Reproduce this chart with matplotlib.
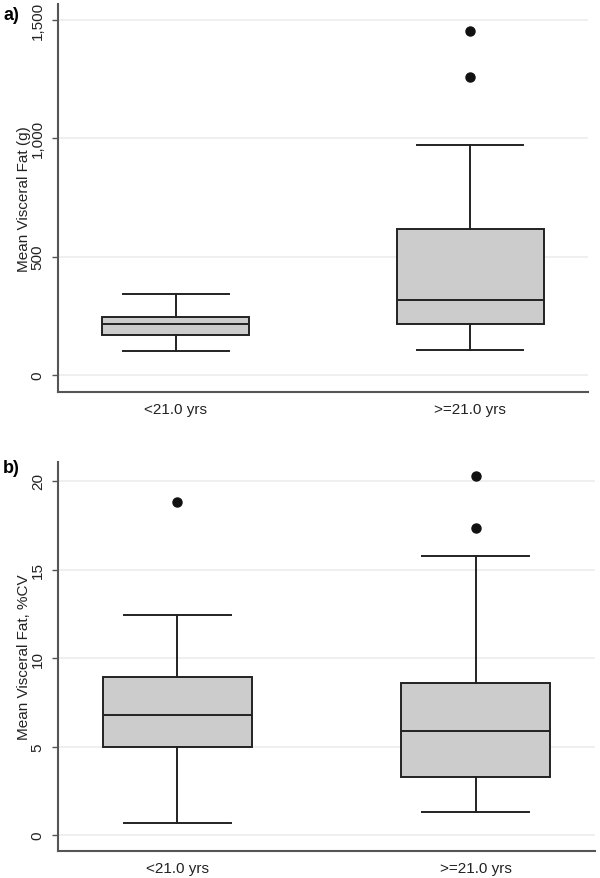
import matplotlib.pyplot as plt
from matplotlib.ticker import StrMethodFormatter

plt.rcParams['font.family'] = ['Liberation Sans', 'DejaVu Sans']

# ---------- data ----------
groups = ["<21.0 yrs", ">=21.0 yrs"]

# panel a: mean visceral fat (g)
fat_med = [216, 317]
fat_q1 = [169, 216]
fat_q3 = [245, 617]
fat_lo = [101, 106]
fat_hi = [342, 972]
fat_out = [[], [1260, 1454]]

# panel b: mean visceral fat, %CV
cv_med = [6.81, 5.87]
cv_q1 = [4.97, 3.31]
cv_q3 = [8.93, 8.58]
cv_lo = [0.68, 1.31]
cv_hi = [12.45, 15.75]
cv_out = [[18.83], [17.36, 20.26]]


def make_stats(med, q1, q3, lo, hi, out):
    stats = []
    for i in range(len(med)):
        stats.append(dict(med=med[i], q1=q1[i], q3=q3[i], whislo=lo[i],
                          whishi=hi[i], fliers=out[i], label=groups[i]))
    return stats


fig = plt.figure(figsize=(6, 8.79), dpi=100)
ax1 = fig.add_axes([58/600, 1-393/879, 530/600, 388/879])
ax2 = fig.add_axes([58/600, 1-852/879, 537/600, 389/879])

panels = [
    (ax1, make_stats(fat_med, fat_q1, fat_q3, fat_lo, fat_hi, fat_out),
     "Mean Visceral Fat (g)", [0, 500, 1000, 1500], (-72, 1568)),
    (ax2, make_stats(cv_med, cv_q1, cv_q3, cv_lo, cv_hi, cv_out),
     "Mean Visceral Fat, %CV", [0, 5, 10, 15, 20], (-0.89, 21.07)),
]

for ax, stats, ylab, yt, ylim in panels:
    ax.bxp(stats, positions=[1, 2], widths=0.5, capwidths=0.36,
           patch_artist=True, showfliers=True,
           boxprops=dict(facecolor='#cccccc', edgecolor='#222222', linewidth=1.4),
           medianprops=dict(color='#222222', linewidth=1.4),
           whiskerprops=dict(color='#222222', linewidth=1.4),
           capprops=dict(color='#222222', linewidth=1.4),
           flierprops=dict(marker='o', markerfacecolor='#111111',
                           markeredgecolor='#111111', markersize=6.5))
    ax.set_xlim(0.6, 2.4)
    ax.set_ylim(*ylim)
    ax.set_yticks(yt)
    ax.yaxis.set_major_formatter(StrMethodFormatter('{x:,.0f}'))
    ax.grid(axis='y', color='#ececec', linewidth=1.2)
    ax.set_axisbelow(True)
    for s in ['top', 'right']:
        ax.spines[s].set_visible(False)
    for s in ['left', 'bottom']:
        ax.spines[s].set_color('#555555')
        ax.spines[s].set_linewidth(1.5)
    ax.tick_params(axis='y', length=4.5, width=1, color='#555555', pad=5,
                   labelsize=11, labelcolor='#222222')
    ax.tick_params(axis='x', length=0, pad=7, labelsize=11, labelcolor='#222222')
    plt.setp(ax.get_yticklabels(), rotation=90, va='center', ha='right')
    ax.set_ylabel(ylab, fontsize=11, color='#222222')
    ax.yaxis.set_label_coords(-27/ax.bbox.width, 0.5)

fig.text(3/600, 1-15/879, "a)", fontsize=13, weight='bold', va='center', ha='left')
fig.text(3/600, 1-469/879, "b)", fontsize=13, weight='bold', va='center', ha='left')

fig.savefig("out.png", dpi=100)
